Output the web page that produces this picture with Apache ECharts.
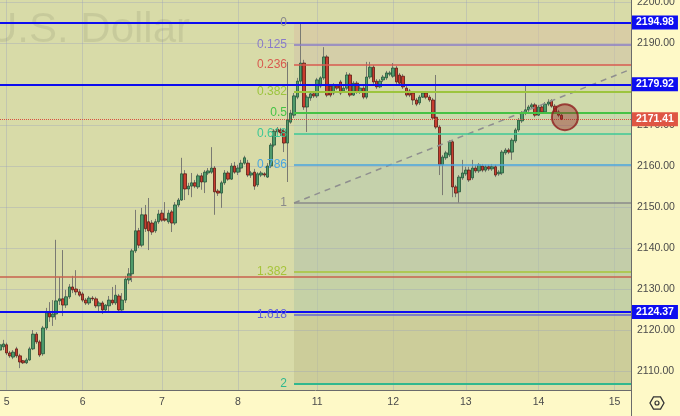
<!DOCTYPE html>
<html><head><meta charset="utf-8">
<script src="https://cdn.jsdelivr.net/npm/echarts@6/dist/echarts.min.js"></script>
<style>html,body{margin:0;padding:0;background:#fef9c7;}#c{width:680px;height:416px;}</style>
</head><body><div id="c"></div>
<script>
// ---- axis structure ----
const dayLabels = ['5','6','7','8','11','12','13','14','15'];
const dayStarts = [2, 25, 49, 72, 96, 119, 141, 163, 186];
const slotCount = 192;
const yMin = 2105.37, yMax = 2200.49;
const priceTicks = [2110, 2120, 2130, 2140, 2150, 2160, 2170, 2180, 2190, 2200];

// ---- hourly candles (XAU/USD) ----
const opens = [2115.1,2115.9,2116.4,2114.4,2113.4,2115.4,2113.7,2112.5,2112.0,2112.7,
2115.4,2119.0,2117.1,2114.2,2120.5,2124.2,2123.2,2123.9,2127.1,2127.6,
2126.1,2128.1,2130.5,2130.0,2129.3,2128.8,2127.3,2126.6,2127.8,2127.6,
2125.9,2126.6,2124.9,2125.9,2127.3,2126.6,2128.3,2124.9,2127.3,2132.2,
2133.7,2139.3,2144.2,2140.7,2148.1,2146.4,2146.1,2144.2,2146.4,2148.5,
2147.1,2146.4,2148.8,2146.1,2150.5,2151.7,2158.1,2154.4,2155.1,2155.9,
2154.9,2157.6,2156.1,2158.3,2158.5,2159.5,2153.9,2153.4,2155.9,2158.3,
2156.8,2160.0,2158.5,2159.5,2160.7,2160.7,2157.8,2158.5,2155.4,2157.8,
2158.1,2157.3,2160.0,2165.1,2169.0,2168.8,2168.5,2165.6,2170.7,2172.4,
2176.8,2180.7,2185.1,2174.4,2176.6,2177.6,2177.1,2179.5,2181.5,2186.6,
2179.5,2177.8,2179.5,2180.5,2178.3,2179.0,2182.2,2177.3,2180.2,2178.1,
2179.0,2176.8,2181.7,2184.1,2180.7,2179.3,2181.0,2181.5,2182.4,2181.9,
2183.9,2182.2,2181.9,2179.0,2178.3,2177.8,2176.1,2175.4,2176.8,2177.8,
2176.8,2176.1,2171.9,2169.5,2160.3,2162.0,2162.7,2165.9,2154.9,2153.7,
2157.1,2158.1,2159.0,2157.1,2159.5,2158.8,2160.0,2159.0,2159.8,2159.3,
2159.8,2158.1,2158.3,2163.2,2163.9,2163.4,2166.1,2168.8,2171.0,2172.9,
2173.7,2174.4,2174.9,2172.4,2174.4,2173.2,2175.1,2175.9,2174.6,2173.2,
2172.4];
const closes = [2116.4,2116.6,2114.4,2113.7,2114.6,2113.7,2112.2,2112.0,2112.7,2115.4,
2119.0,2117.1,2113.9,2120.5,2124.2,2123.2,2123.9,2127.1,2127.6,2126.1,
2128.1,2130.5,2129.8,2129.3,2128.5,2127.3,2126.6,2127.8,2127.6,2125.9,
2126.6,2124.9,2126.1,2127.3,2126.6,2128.5,2124.9,2127.3,2132.4,2133.7,
2139.3,2144.2,2140.7,2148.1,2144.7,2144.2,2143.9,2146.4,2148.3,2146.8,
2146.8,2148.5,2146.1,2150.5,2151.7,2158.1,2154.4,2155.1,2155.9,2155.1,
2157.6,2156.1,2158.5,2158.8,2159.5,2153.7,2153.4,2155.9,2158.3,2156.8,
2160.0,2158.5,2159.5,2160.7,2162.0,2157.8,2158.3,2155.1,2158.1,2158.3,
2157.8,2160.0,2165.1,2168.5,2168.3,2168.1,2165.6,2171.2,2172.9,2177.1,
2180.7,2185.1,2174.4,2176.8,2177.6,2177.1,2181.0,2181.5,2186.6,2177.3,
2177.3,2179.8,2179.0,2177.8,2179.0,2182.2,2177.3,2180.2,2178.1,2179.0,
2176.8,2181.7,2184.1,2180.5,2179.3,2180.7,2181.7,2182.7,2182.7,2183.9,
2180.5,2180.2,2179.3,2177.3,2177.3,2176.1,2175.1,2176.8,2177.8,2176.8,
2176.1,2171.7,2169.5,2160.3,2162.2,2163.2,2165.9,2154.9,2153.4,2157.3,
2158.3,2159.0,2156.6,2159.5,2158.8,2160.3,2159.0,2159.8,2159.3,2159.8,
2157.8,2158.5,2163.4,2163.9,2163.4,2166.3,2168.8,2171.2,2172.9,2173.7,
2174.4,2174.9,2172.4,2174.4,2173.2,2175.1,2175.6,2174.6,2173.2,2172.4,
2171.41];
const lows = [2113.4,2115.1,2113.9,2113.2,2112.9,2113.2,2110.7,2111.7,2111.7,2112.5,
2115.1,2116.6,2113.4,2113.7,2120.0,2122.0,2121.0,2122.5,2126.1,2123.4,
2125.4,2127.6,2129.0,2128.5,2128.1,2126.8,2126.1,2126.1,2127.1,2125.4,
2124.4,2123.9,2124.4,2124.6,2126.1,2126.1,2124.4,2124.4,2126.6,2131.2,
2131.7,2138.8,2140.0,2140.2,2143.9,2139.5,2143.2,2143.7,2145.9,2146.4,
2146.4,2145.9,2143.9,2145.6,2150.0,2151.5,2151.7,2152.9,2152.4,2154.6,
2154.4,2154.2,2153.4,2157.8,2158.1,2148.1,2152.7,2149.8,2155.4,2156.4,
2156.6,2158.1,2157.8,2158.5,2160.3,2157.3,2157.1,2154.2,2154.9,2157.3,
2157.3,2157.1,2159.5,2164.6,2167.8,2167.3,2163.4,2156.1,2170.3,2171.7,
2176.3,2180.0,2173.7,2168.3,2175.9,2176.6,2176.6,2179.0,2181.0,2176.8,
2176.8,2177.3,2178.5,2177.3,2178.1,2178.5,2176.8,2177.1,2177.6,2177.6,
2176.3,2176.3,2181.2,2180.0,2178.8,2179.0,2180.5,2181.0,2181.9,2181.5,
2180.0,2179.8,2178.8,2176.8,2176.8,2174.9,2174.6,2174.9,2176.6,2176.3,
2175.6,2171.2,2169.0,2157.8,2152.9,2161.5,2162.2,2152.4,2152.4,2150.98,
2156.6,2157.6,2156.1,2156.6,2158.3,2158.3,2158.5,2158.5,2158.8,2158.8,
2157.3,2157.6,2157.8,2162.7,2162.9,2161.5,2165.6,2168.3,2170.5,2172.4,
2173.2,2173.9,2171.9,2172.2,2172.7,2172.9,2174.6,2174.2,2172.9,2171.9,
2171.2];
const highs = [2118.1,2117.6,2116.9,2114.9,2115.1,2115.9,2114.2,2112.7,2113.2,2115.9,
2120.0,2119.5,2117.6,2121.0,2125.4,2126.8,2127.3,2142.0,2132.9,2139.5,
2129.8,2131.2,2133.2,2134.6,2130.0,2129.3,2127.8,2128.3,2128.3,2128.1,
2127.1,2127.1,2126.3,2128.3,2130.5,2131.0,2128.8,2129.0,2133.2,2135.1,
2139.8,2149.3,2144.9,2149.8,2150.5,2152.2,2146.8,2147.1,2149.3,2149.3,
2151.2,2149.3,2149.3,2151.2,2152.2,2162.0,2159.0,2155.9,2158.3,2156.6,
2158.1,2158.3,2159.0,2159.5,2164.6,2160.0,2154.4,2156.4,2159.0,2158.8,
2160.7,2161.0,2160.3,2161.5,2162.5,2161.5,2158.8,2159.3,2158.5,2158.8,
2158.5,2160.7,2165.6,2169.0,2169.5,2169.3,2169.0,2185.4,2173.7,2177.8,
2181.5,2194.98,2185.9,2177.3,2178.3,2178.3,2181.5,2181.9,2189.0,2187.1,
2180.0,2180.2,2180.0,2181.0,2179.5,2182.9,2182.7,2180.7,2180.7,2179.5,
2179.5,2185.4,2185.4,2184.6,2181.2,2181.2,2182.2,2183.2,2183.2,2185.1,
2184.4,2182.7,2182.4,2179.5,2178.8,2178.3,2176.6,2177.3,2178.3,2178.3,
2177.3,2176.6,2182.2,2170.0,2162.7,2163.7,2166.3,2166.3,2155.4,2157.8,
2161.5,2159.8,2159.8,2161.5,2160.3,2160.7,2160.5,2160.3,2160.3,2160.5,
2160.3,2159.0,2163.9,2164.4,2164.4,2166.8,2169.3,2171.7,2173.4,2179.8,
2174.9,2175.4,2175.4,2174.9,2174.9,2175.6,2176.3,2176.3,2175.1,2173.7,
2172.7];

// ---- drawings ----
const blueLevels = [2194.98, 2179.92, 2124.37];
const lastPrice = 2171.41;
const brownLevel = 2132.9;
const fibHigh = 2194.98, fibLow = 2150.98;
const fibLevels = [0, 0.125, 0.236, 0.382, 0.5, 0.618, 0.786, 1, 1.382, 1.618, 2];
const fibStartIdx = 89;
const trendStart = [89, 2150.98];
const trendEnd = [191, 2183.6];
const circlePoint = [171, 2171.9];

// ---- build ----
const cats = [];
for (let j = 0; j < slotCount; j++) {
  let d = -1;
  for (let k = 0; k < dayStarts.length; k++) if (j >= dayStarts[k]) d = k;
  const lab = d < 0 ? '4' : dayLabels[d];
  const h = d < 0 ? j + 21 : j - dayStarts[d];
  cats.push(lab + '#' + h);
}
const isDayStart = (i) => dayStarts.indexOf(i) >= 0;

const wickData = opens.map((o, i) => [o, closes[i], lows[i], highs[i]]);
const bodyData = opens.map((o, i) => [o, closes[i], Math.min(o, closes[i]), Math.max(o, closes[i])]);

const fibPrice = (lv) => fibHigh - lv * (fibHigh - fibLow);
const fibColors = ['#8a8a8a','#8a7cc8','#d85a4f','#9cc43e','#46c246','#3cc896','#4aa6e0','#8a8a8a','#a6c43a','#6464d4','#2fb88e'];
const fibFills = ['rgba(216,193,162,0.55)','rgba(208,193,168,0.5)','rgba(206,213,168,0.5)','rgba(198,215,174,0.5)',
  'rgba(190,215,178,0.5)','rgba(184,209,178,0.5)','rgba(178,199,174,0.5)','rgba(174,191,170,0.5)',
  'rgba(178,199,164,0.5)','rgba(192,191,140,0.5)'];
const endCat = cats[slotCount - 1];
const startCat = cats[fibStartIdx];

const fibLines = fibLevels.map((lv, i) => [
  { coord: [startCat, fibPrice(lv)], lineStyle: { color: fibColors[i], width: (lv === 0.382 || lv === 0.5 || lv === 2) ? 2 : 1.5, type: 'solid' },
    label: { show: true, position: 'start', distance: 7, formatter: String(lv), color: fibColors[i], fontSize: 12 } },
  { coord: [endCat, fibPrice(lv)] }
]);
const fibAreas = [];
for (let i = 0; i < fibLevels.length - 1; i++) {
  fibAreas.push([
    { coord: [startCat, fibPrice(fibLevels[i])], itemStyle: { color: fibFills[i] } },
    { coord: [endCat, fibPrice(fibLevels[i + 1])] }
  ]);
}

const gridColor = 'rgba(150,155,190,0.32)';
const gridLines = priceTicks.map(v => ({ yAxis: v, lineStyle: { color: gridColor, width: 1, type: 'solid' },
  label: { show: true, position: 'end', distance: 6, color: '#4a4a4a', fontSize: 10.5, formatter: v.toFixed(2) } }));

const tagLabel = (bg) => ({ show: true, position: 'end', distance: 1, color: '#fff', fontWeight: 'bold', fontSize: 10.5,
  backgroundColor: bg, padding: [2, 4, 1, 4], formatter: (p) => Number(p.value).toFixed(2) });
const userLines = blueLevels.map(v => ({ yAxis: v, lineStyle: { color: '#0d0df0', width: 2, type: 'solid' }, label: tagLabel('#0d0df0') }));
userLines.push({ yAxis: brownLevel, lineStyle: { color: '#c8624e', width: 1.5, type: 'solid' }, label: { show: false } });
userLines.push({ yAxis: lastPrice, lineStyle: { color: '#d9503e', width: 1, type: 'dotted' }, label: tagLabel('#df5644') });

const chart = echarts.init(document.getElementById('c'));
chart.setOption({
  animation: false,
  backgroundColor: '#fef9c7',
  textStyle: { fontFamily: '"Liberation Sans", Arial, sans-serif' },
  grid: { left: 0, right: 49, top: 0, bottom: 26, show: true, backgroundColor: '#d8dba8', borderWidth: 0 },
  xAxis: {
    type: 'category', data: cats, boundaryGap: false,
    axisLine: { show: true, lineStyle: { color: '#6b6b6b' } },
    axisTick: { show: false },
    axisLabel: { interval: (i) => isDayStart(i), formatter: (v) => v.split('#')[0], color: '#4a4a4a', fontSize: 10.5, margin: 7 },
    splitLine: { show: true, interval: (i) => isDayStart(i), lineStyle: { color: gridColor, width: 1 } }
  },
  yAxis: {
    type: 'value', position: 'right', min: yMin, max: yMax, interval: 10,
    axisLine: { show: true, lineStyle: { color: '#6b6b6b' } },
    axisTick: { show: false },
    axisLabel: { show: false },
    splitLine: { show: false }
  },
  graphic: [
    { type: 'text', x: 190, y: 30.5, z: 1, silent: true,
      style: { text: 'U.S. Dollar', font: '42px "Liberation Sans", Arial, sans-serif', fill: 'rgba(0,0,0,0.075)', align: 'right', verticalAlign: 'middle' } },
    { type: 'line', shape: { x1: 631.5, y1: 390, x2: 631.5, y2: 416 }, style: { stroke: '#6b6b6b', lineWidth: 1 } },
    { type: 'polygon', shape: { points: [[664, 403], [660.5, 409.06], [653.5, 409.06], [650, 403], [653.5, 396.94], [660.5, 396.94]] },
      style: { fill: 'none', stroke: '#333', lineWidth: 1.3 } },
    { type: 'circle', shape: { cx: 657, cy: 403, r: 2 }, style: { fill: 'none', stroke: '#333', lineWidth: 1.2 } }
  ],
  series: [
    { type: 'line', name: 'trend', z: 4, data: [[cats[trendStart[0]], trendStart[1]], [cats[trendEnd[0]], trendEnd[1]]],
      symbol: 'none', lineStyle: { color: '#8f8f8f', width: 1.5, type: [6, 5] }, silent: true,
      markArea: { silent: true, data: fibAreas },
      markLine: { silent: true, symbol: ['none', 'none'], data: fibLines } },
    { type: 'candlestick', name: 'wicks', z: 2, data: wickData, barWidth: 1,
      itemStyle: { color: '#7a7a72', color0: '#7a7a72', borderColor: '#7a7a72', borderColor0: '#7a7a72', borderWidth: 1 },
      markLine: { silent: true, z: 1, symbol: ['none', 'none'], data: gridLines } },
    { type: 'candlestick', name: 'bodies', z: 3, data: bodyData, barWidth: 3,
      itemStyle: { color: '#4f9a6a', color0: '#c83d2f', borderColor: '#23553a', borderColor0: '#5c1c14', borderWidth: 0.8 },
      markLine: { silent: true, symbol: ['none', 'none'], data: userLines } },
    { type: 'scatter', name: 'circle', z: 6, data: [[cats[circlePoint[0]], circlePoint[1]]], symbol: 'circle', symbolSize: 26,
      itemStyle: { color: 'rgba(150,30,30,0.5)', borderColor: '#8e1f1f', borderWidth: 2 }, silent: true }
  ]
});
</script></body></html>
